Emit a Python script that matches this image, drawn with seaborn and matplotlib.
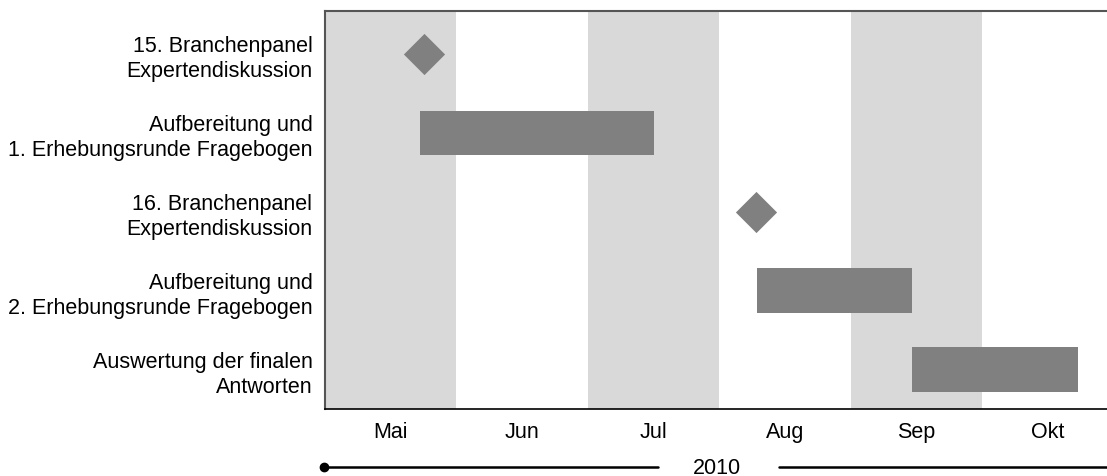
import matplotlib
matplotlib.use('Agg')
import matplotlib.pyplot as plt
import seaborn as sns
import pandas as pd
from matplotlib.lines import Line2D

# rows of the schedule (top to bottom)
tasks = [
    '15. Branchenpanel\nExpertendiskussion',
    'Aufbereitung und\n1. Erhebungsrunde Fragebogen',
    '16. Branchenpanel\nExpertendiskussion',
    'Aufbereitung und\n2. Erhebungsrunde Fragebogen',
    'Auswertung der finalen\nAntworten',
]
months = ['Mai', 'Jun', 'Jul', 'Aug', 'Sep', 'Okt']
year_label = '2010'

# milestones (row index, position in months from 1 May)
milestone_rows = [0, 2]
milestone_pos = [0.75, 3.28]

# activities (row index, start, end in months from 1 May)
bar_rows = [1, 3, 4]
bar_start = [0.72, 3.29, 4.47]
bar_end = [2.50, 4.47, 5.73]

BAR = '#808080'
SHADE = '#d9d9d9'

sns.set_theme(style='white')
plt.rcParams['font.family'] = ['Liberation Sans', 'DejaVu Sans']
plt.rcParams['text.color'] = 'black'
plt.rcParams['xtick.color'] = 'black'
plt.rcParams['ytick.color'] = 'black'

fig = plt.figure(figsize=(11.07, 4.77), dpi=100)
ax = fig.add_axes([325 / 1107, 1 - 410 / 477, 1 - 325 / 1107, (410 - 12) / 477])

# alternating month shading
for i in range(0, len(months), 2):
    ax.axvspan(i, i + 1, color=SHADE, lw=0, zorder=0)

widths = [e - s for s, e in zip(bar_start, bar_end)]
ax.barh(bar_rows, widths, left=bar_start, height=0.56, color=BAR, lw=0, zorder=2)

ms = pd.DataFrame({'pos': milestone_pos, 'row': milestone_rows})
sns.scatterplot(data=ms, x='pos', y='row', marker='D', s=440, color=BAR,
                linewidth=0, ax=ax, zorder=3)

ax.set_xlim(0, 5.95)
ax.set_ylim(4.5, -0.54)
ax.set_xticks([i + 0.5 for i in range(len(months))])
ax.set_xticklabels(months, fontsize=15.5)
ax.set_yticks(range(len(tasks)))
ax.set_yticklabels(tasks, fontsize=15.5, ha='right', linespacing=1.25)
ax.tick_params(axis='x', length=0, pad=9)
ax.tick_params(axis='y', length=0, pad=9)
ax.set_xlabel('')
ax.set_ylabel('')

for side in ['top', 'left']:
    ax.spines[side].set_color('#555555')
    ax.spines[side].set_linewidth(1.5)
ax.spines['bottom'].set_color('black')
ax.spines['bottom'].set_linewidth(1.2)
ax.spines['right'].set_visible(False)

# year timeline below the axis
yl = 1 - 468 / 477
fig.add_artist(Line2D([324 / 1107, 658 / 1107], [yl, yl], color='black', lw=1.8))
fig.add_artist(Line2D([779 / 1107, 1.0], [yl, yl], color='black', lw=1.8))
fig.add_artist(Line2D([324 / 1107], [yl], marker='o', markersize=6, color='black'))
fig.text(717 / 1107, 1 - 474 / 477, year_label, ha='center', va='baseline', fontsize=15.5)

fig.savefig('out.png', dpi=100)
